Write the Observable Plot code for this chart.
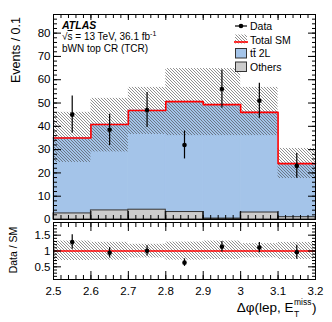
<!DOCTYPE html>
<html><head><meta charset="utf-8">
<script src="https://cdn.jsdelivr.net/npm/d3@7"></script>
<script src="https://cdn.jsdelivr.net/npm/@observablehq/plot@0.6"></script>
<style>
body{margin:0;background:#fff;}
#c{position:relative;width:332px;height:322px;overflow:hidden;font-family:"Liberation Sans",Arial,sans-serif;}
#c > svg{position:absolute;left:0;overflow:visible;}
</style></head><body>
<svg width="0" height="0" style="position:absolute"><defs>
<pattern id="hatch" patternUnits="userSpaceOnUse" width="3" height="3">
<path d="M-1,-1L4,4M2,-1L4,1M-1,2L1,4" stroke="#444" stroke-width="0.6" fill="none"/>
</pattern></defs></svg>
<div id="c"></div>
<script>
// ---- data ----
const binLow  = [2.5, 2.6, 2.7, 2.8, 2.9, 3.0, 3.1];
const binHigh = [2.6, 2.7, 2.8, 2.9, 3.0, 3.1, 3.2];
const others  = [2.6, 3.9, 4.2, 3.2, 0.4, 3.0, 1.0];
const ttbar2L = [32.4, 36.9, 42.6, 47.4, 48.9, 43.0, 23.0];
const totalSM = [35.0, 40.8, 46.8, 50.6, 49.3, 46.0, 24.0];
const totalUncLow  = [24.5, 29.0, 36.5, 36.0, 36.0, 36.0, 17.6];
const totalUncHigh = [46.0, 52.0, 56.7, 64.8, 64.8, 56.7, 30.5];
const dataCounts = [45, 38.5, 47, 32, 56, 51, 23];
const dataErr    = [8.0, 6.7, 7.5, 6.0, 8.2, 7.5, 5.3];

const xMajor = [2.5, 2.6, 2.7, 2.8, 2.9, 3.0, 3.1, 3.2];
const yMainMajor = [0, 10, 20, 30, 40, 50, 60, 70, 80];
const yRatioMajor = [0.5, 1, 1.5];

const xMinor = d3.range(0, 36).map(i => 2.5 + i * 0.02);
const yMainMinor = d3.range(0, 89, 2);
const yRatioMinor = d3.range(2, 19).map(i => i / 10);

const bins = binLow.map((x0, i) => ({
  x0, x1: binHigh[i], xc: (x0 + binHigh[i]) / 2,
  others: others[i], top: others[i] + ttbar2L[i], total: totalSM[i],
  lo: totalUncLow[i], hi: totalUncHigh[i], data: dataCounts[i], err: dataErr[i]
}));
const step = bins.flatMap(b => [{x: b.x0, y: b.total}, {x: b.x1, y: b.total}]);

const FONT = "Liberation Sans, Arial, sans-serif";
const style = {fontFamily: FONT, fontSize: "11.5px", color: "#000", background: "transparent", overflow: "visible"};
const blank = () => "";
const fmt = d => String(d);
const BLUE = "#a4c4e9";

function tickAxes(xMaj, xMin, yMaj, yMin, topMaj, topMin) {
  return [
    Plot.axisX(xMin, {anchor: "bottom", tickSize: -4, tickFormat: blank, label: null}),
    Plot.axisX(xMaj, {anchor: "bottom", tickSize: -8, tickFormat: blank, label: null}),
    Plot.axisX(xMin, {anchor: "top", tickSize: topMin, tickFormat: blank, label: null}),
    Plot.axisX(xMaj, {anchor: "top", tickSize: topMaj, tickFormat: blank, label: null}),
    Plot.axisY(yMin, {anchor: "left", tickSize: -4, tickFormat: blank, label: null}),
    Plot.axisY(yMaj, {anchor: "left", tickSize: -8, tickFormat: blank, label: null}),
    Plot.axisY(yMin, {anchor: "right", tickSize: -4, tickFormat: blank, label: null}),
    Plot.axisY(yMaj, {anchor: "right", tickSize: -8, tickFormat: blank, label: null})
  ];
}

const main = Plot.plot({
  width: 332, height: 222,
  marginTop: 14, marginBottom: 3, marginLeft: 53, marginRight: 17,
  x: {domain: [2.5, 3.2], label: null},
  y: {domain: [0, 88], label: null},
  style,
  marks: [
    Plot.rect(bins, {x1: "x0", x2: "x1", y1: "others", y2: "top", fill: BLUE, stroke: BLUE, strokeWidth: 0.8}),
    Plot.rect(bins, {x1: "x0", x2: "x1", y1: 0, y2: "others", fill: "#cccccc", stroke: "#333", strokeWidth: 1}),
    Plot.rect(bins, {x1: "x0", x2: "x1", y1: "lo", y2: "hi", fill: "url(#hatch)"}),
    Plot.line(step, {x: "x", y: "y", stroke: "#ff0000", strokeWidth: 1.6}),
    Plot.ruleX(bins, {x: "xc", y1: d => d.data - d.err, y2: d => d.data + d.err, stroke: "#000", strokeWidth: 1.2}),
    Plot.dot(bins, {x: "xc", y: "data", r: 2.3, fill: "#000"}),
    Plot.frame({stroke: "#000"}),
    ...tickAxes(xMajor, xMinor, yMainMajor, yMainMinor, -5, -3),
    Plot.axisY(yMainMajor, {anchor: "left", tickSize: 0, tickPadding: 3, tickFormat: fmt, label: null})
  ]
});
main.style.top = "0px";

const ratio = Plot.plot({
  width: 332, height: 103,
  marginTop: 3, marginBottom: 43, marginLeft: 53, marginRight: 17,
  x: {domain: [2.5, 3.2], label: null},
  y: {domain: [0.1, 1.9], label: null},
  style,
  marks: [
    Plot.rect(bins, {x1: "x0", x2: "x1", y1: d => d.lo / d.total, y2: d => d.hi / d.total, fill: "url(#hatch)"}),
    Plot.ruleY([1], {stroke: "#ff0000", strokeWidth: 1.6}),
    Plot.ruleX(bins, {x: "xc", y1: d => (d.data - d.err) / d.total, y2: d => (d.data + d.err) / d.total, stroke: "#000", strokeWidth: 1.2}),
    Plot.dot(bins, {x: "xc", y: d => d.data / d.total, r: 2.3, fill: "#000"}),
    Plot.frame({stroke: "#000"}),
    ...tickAxes(xMajor, xMinor, yRatioMajor, yRatioMinor, -8, -4),
    Plot.axisY(yRatioMajor, {anchor: "left", tickSize: 0, tickPadding: 3, tickFormat: fmt, label: null}),
    Plot.axisX(xMajor, {anchor: "bottom", tickSize: 0, tickPadding: 7, tickFormat: fmt, label: null})
  ]
});
ratio.style.top = "219px";

const c = document.getElementById("c");
c.appendChild(main);
c.appendChild(ratio);

// ---- overlay: labels, legend ----
const NS = "http://www.w3.org/2000/svg";
const ov = document.createElementNS(NS, "svg");
ov.setAttribute("width", 332); ov.setAttribute("height", 322);
ov.style.top = "0px"; ov.style.pointerEvents = "none";
ov.setAttribute("font-family", FONT);
c.appendChild(ov);
function el(tag, attrs, text) {
  const e = document.createElementNS(NS, tag);
  for (const k in attrs) e.setAttribute(k, attrs[k]);
  if (text != null) e.textContent = text;
  ov.appendChild(e);
  return e;
}
// ATLAS label
el("text", {x: 62, y: 28.5, "font-size": 10.5, "font-weight": "bold", "font-style": "italic"}, "ATLAS");
const t2 = el("text", {x: 62, y: 40, "font-size": 10});
t2.innerHTML = '√<tspan style="text-decoration:overline">s</tspan> = 13 TeV, 36.1 fb<tspan font-size="7" dy="-4">-1</tspan>';
el("text", {x: 62, y: 52, "font-size": 10}, "bWN top CR (TCR)");

// legend
el("line", {x1: 235, x2: 247, y1: 26, y2: 26, stroke: "#000", "stroke-width": 1.2});
el("circle", {cx: 241, cy: 26, r: 2.3, fill: "#000"});
el("text", {x: 250, y: 29.8, "font-size": 10.5}, "Data");
el("rect", {x: 235, y: 34.5, width: 12, height: 9, fill: "url(#hatch)"});
el("line", {x1: 234, x2: 248, y1: 42, y2: 42, stroke: "#ff0000", "stroke-width": 1.6});
el("text", {x: 250, y: 43.8, "font-size": 10.5}, "Total SM");
el("rect", {x: 235.5, y: 48.5, width: 11, height: 9.5, fill: BLUE, stroke: "#333", "stroke-width": 1});
el("text", {x: 250, y: 57, "font-size": 10.5}, "tt\u0304 2L");
el("rect", {x: 235.5, y: 62, width: 11, height: 9.5, fill: "#cccccc", stroke: "#333", "stroke-width": 1});
el("text", {x: 250, y: 70.8, "font-size": 10.5}, "Others");

// y titles
el("text", {transform: "translate(20,17) rotate(-90)", "text-anchor": "end", "font-size": 12.5}, "Events / 0.1");
el("text", {transform: "translate(16.5,250) rotate(-90)", "text-anchor": "middle", "font-size": 10.5}, "Data / SM");

// x title with stacked sub/superscript
const xa = el("text", {x: 0, y: 312, "font-size": 13.5}, "Δφ(lep, E");
const xs = el("text", {x: 0, y: 305, "font-size": 8.5}, "miss");
const xt = el("text", {x: 0, y: 316.5, "font-size": 8.5}, "T");
const xp = el("text", {x: 0, y: 312, "font-size": 13.5}, ")");
const wa = xa.getComputedTextLength(), ws = xs.getComputedTextLength(), wp = xp.getComputedTextLength();
const x0 = 316 - (wa + ws + 0.5 + wp);
xa.setAttribute("x", x0);
xs.setAttribute("x", x0 + wa + 0.5);
xt.setAttribute("x", x0 + wa + 0.5);
xp.setAttribute("x", x0 + wa + ws + 1);
</script>
</body></html>
